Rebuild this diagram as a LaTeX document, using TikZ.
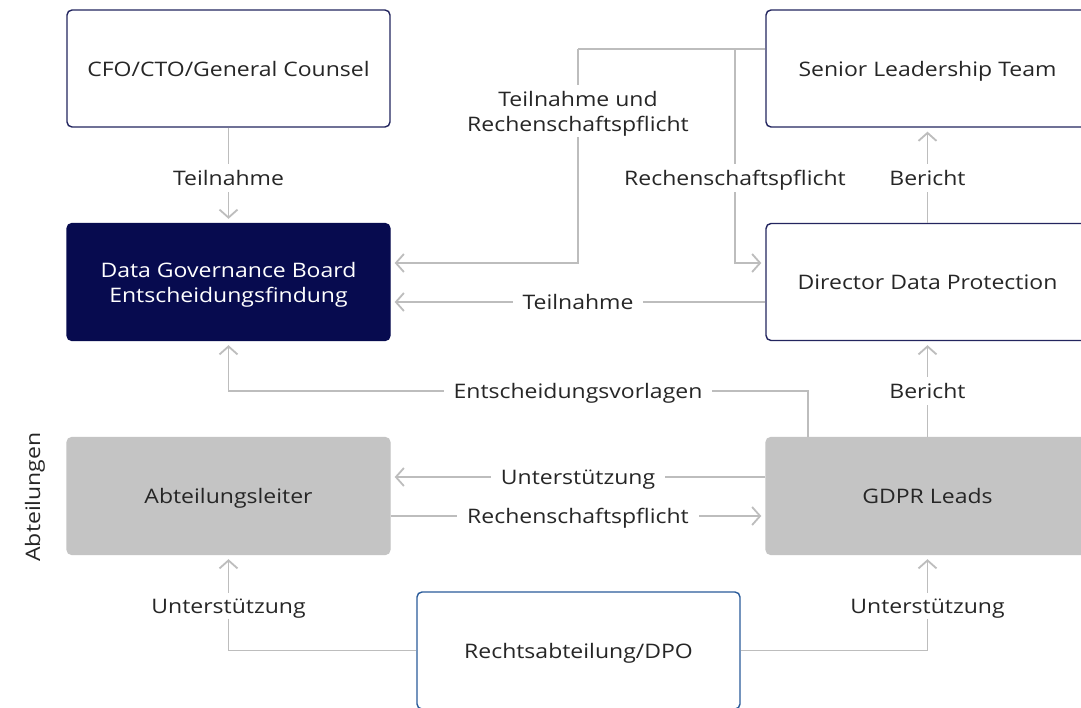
\documentclass[tikz,border=0pt]{standalone}
\usepackage{fontspec}
\setmainfont{Open Sans}[FakeStretch=1.15]
\usetikzlibrary{arrows.meta}
\definecolor{navy}{HTML}{070B4F}
\definecolor{navyline}{HTML}{23255F}
\definecolor{blueline}{HTML}{2A5B9A}
\definecolor{boxgray}{HTML}{C4C4C4}
\definecolor{conn}{HTML}{BDBDBD}
\definecolor{txt}{HTML}{262626}
\tikzset{
  box/.style={rectangle, rounded corners=5pt, minimum width=323pt, minimum height=117pt,
    align=center, font=\fontsize{20}{25}\selectfont, text=txt, line width=1.4pt, text depth=0pt},
  whitebox/.style={box, draw=navyline, fill=white},
  darkbox/.style={box, draw=navy, fill=navy, text=white},
  graybox/.style={box, draw=boxgray, fill=boxgray},
  legalbox/.style={box, draw=blueline, fill=white},
  conline/.style={draw=conn, line width=1.8pt},
  arr/.style={conline, -{Straight Barb[length=8pt,width=18pt,line width=1.8pt]}, shorten >=4pt},
  lbl/.style={fill=white, text=txt, font=\fontsize{20}{25}\selectfont, inner xsep=10pt, inner ysep=6pt, align=center, text depth=0pt},
}
\begin{document}
\begin{tikzpicture}[x=1pt,y=-1pt]
\useasboundingbox (0,0) rectangle (1081,707);
\fill[white] (0,0) rectangle (1081,707);

\node[whitebox] (cfo) at (228.5,68.5) {CFO/CTO/General Counsel};
\node[whitebox] (slt) at (927.5,68.5) {Senior Leadership Team};
\node[darkbox] (dgb) at (228.5,282) {Data Governance Board\\Entscheidungsfindung};
\node[whitebox] (ddp) at (927.5,282) {Director Data Protection};
\node[graybox] (abt) at (228.5,496) {Abteilungsleiter};
\node[graybox] (gdpr) at (927.5,496) {GDPR Leads};
\node[legalbox] (recht) at (578.5,650.5) {Rechtsabteilung/DPO};
\node[rotate=90, text=txt, font=\fontsize{20}{25}\selectfont] (abtlg) at (35,497) {Abteilungen};

\coordinate (ja) at (578,49);
\coordinate (jb) at (735,49);
\coordinate (jc) at (808,391);
\coordinate (sltw) at ([yshift=19.5pt]slt.west);
\coordinate (dgbe1) at ([yshift=19pt]dgb.east);
\coordinate (dgbe2) at ([yshift=-20pt]dgb.east);
\coordinate (ddpw1) at ([yshift=19pt]ddp.west);
\coordinate (ddpw2) at ([yshift=-20pt]ddp.west);
\coordinate (abte1) at ([yshift=19pt]abt.east);
\coordinate (abte2) at ([yshift=-20pt]abt.east);
\coordinate (gdprw1) at ([yshift=19pt]gdpr.west);
\coordinate (gdprw2) at ([yshift=-20pt]gdpr.west);

% CFO -> DGB
\draw[arr] (cfo.south) -- (dgb.north);
% SLT -> DGB (Teilnahme und Rechenschaftspflicht)
\draw[conline] (sltw) -- (ja);
\draw[arr] (ja) |- (dgbe1);
% SLT -> DDP (Rechenschaftspflicht)
\draw[arr] (jb) |- (ddpw1);
% DDP -> DGB
\draw[arr] (ddpw2) -- (dgbe2);
% DDP -> SLT
\draw[arr] (ddp.north) -- (slt.south);
% GDPR -> DDP
\draw[arr] (gdpr.north) -- (ddp.south);
% GDPR -> DGB (Entscheidungsvorlagen)
\draw[arr] (jc |- gdpr.north) -- (jc) -| (dgb.south);
% GDPR -> Abt
\draw[arr] (gdprw1) -- (abte1);
% Abt -> GDPR
\draw[arr] (abte2) -- (gdprw2);
% Recht -> Abt, Recht -> GDPR
\draw[arr] (recht.west) -| (abt.south);
\draw[arr] (recht.east) -| (gdpr.south);

% labels
\node[lbl] (l1) at (228.5,178) {Teilnahme};
\node[lbl] (l2) at (578,111) {Teilnahme und\\Rechenschaftspflicht};
\node[lbl] (l3) at (735,178) {Rechenschaftspflicht};
\node[lbl] (l4) at (927.5,178) {Bericht};
\node[lbl] (l5) at (578,302) {Teilnahme};
\node[lbl] (l6) at (578,391) {Entscheidungsvorlagen};
\node[lbl] (l7) at (927.5,391) {Bericht};
\node[lbl] (l8) at (578,477) {Unterstützung};
\node[lbl] (l9) at (578,516) {Rechenschaftspflicht};
\node[lbl] (l10) at (228.5,606) {Unterstützung};
\node[lbl] (l11) at (927.5,606) {Unterstützung};
\end{tikzpicture}
\end{document}
